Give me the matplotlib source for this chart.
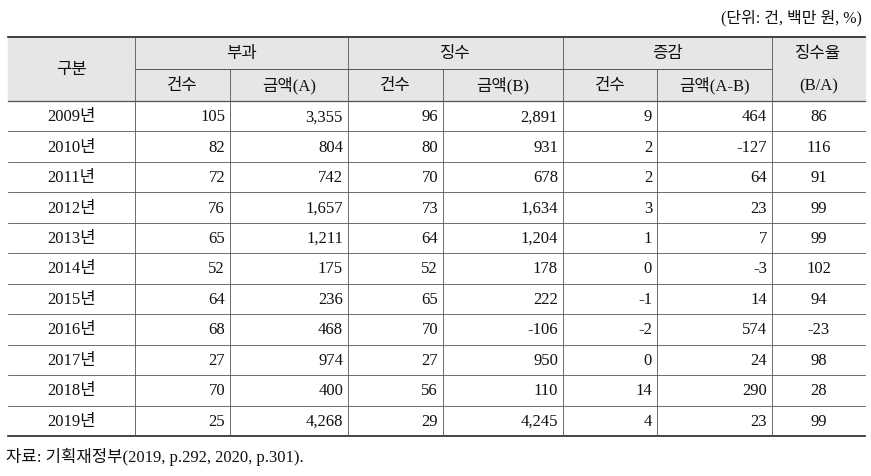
import matplotlib
matplotlib.use("Agg")
import matplotlib.pyplot as plt
from matplotlib import font_manager as fm

years = ["2009년","2010년","2011년","2012년","2013년","2014년","2015년","2016년","2017년","2018년","2019년"]
levy_cnt = [105,82,72,76,65,52,64,68,27,70,25]
levy_amt = [3355,804,742,1657,1211,175,236,468,974,400,4268]
coll_cnt = [96,80,70,73,64,52,65,70,27,56,29]
coll_amt = [2891,931,678,1634,1204,178,222,-106,950,110,4245]
diff_cnt = [9,2,2,3,1,0,-1,-2,0,14,4]
diff_amt = [464,-127,64,23,7,-3,14,574,24,290,23]
rate = [86,116,91,99,99,102,94,-23,98,28,99]

cjk = "Noto Sans CJK KR"
for p in fm.findSystemFonts():
    if "CJK" in p and ("KR" in p or "ttc" in p.lower()):
        try:
            fm.fontManager.addfont(p)
        except Exception:
            pass
names = {f.name for f in fm.fontManager.ttflist}
if cjk not in names:
    cands = [n for n in names if "CJK" in n]
    if cands:
        cjk = sorted(cands)[0]
FONT = ["Liberation Serif", cjk]
plt.rcParams["font.family"] = FONT

fig = plt.figure(figsize=(8.71, 4.77), dpi=100)
ax = fig.add_axes([0, 0, 1, 1])
ax.set_xlim(0, 871); ax.set_ylim(477, 0); ax.axis("off")

xs = [8, 135, 230, 348, 443, 563, 657, 772, 865]
top, h1, h2 = 38, 70, 102
rh = (437 - 102) / 11
fs = 12
bg = "#e6e6e6"

ax.add_patch(plt.Rectangle((xs[0], top), xs[-1]-xs[0], h2-top, color=bg, zorder=0))
lc = "#555555"
ax.plot([xs[0], xs[-1]], [top, top], color="#222222", lw=1.2)
ax.plot([xs[1], xs[7]], [h1, h1], color=lc, lw=0.7)
ax.plot([xs[0], xs[-1]], [h2, h2], color=lc, lw=0.9)
for i in range(1, 11):
    y = h2 + i*rh
    ax.plot([xs[0], xs[-1]], [y, y], color=lc, lw=0.6)
ax.plot([xs[0], xs[-1]], [437, 437], color="#222222", lw=1.2)
bottom = 437
for i, x in enumerate(xs[1:-1], start=1):
    y0 = h1 if i in (2, 4, 6) else top
    ax.plot([x, x], [y0, bottom], color=lc, lw=0.6)

def t(x, y, s, ha="center", size=fs):
    ax.text(x, y, s, ha=ha, va="center", fontsize=size, color="#111111")

t((xs[0]+xs[1])/2, (top+h2)/2, "구분")
for j, lab in enumerate(["부과", "징수", "증감"]):
    t((xs[1+2*j]+xs[3+2*j])/2, (top+h1)/2, lab)
t((xs[7]+xs[8])/2, (top+h1)/2, "징수율")
t((xs[7]+xs[8])/2, (h1+h2)/2, "(B/A)")
subs = ["건수", "금액(A)", "건수", "금액(B)", "건수", "금액(A-B)"]
for j, lab in enumerate(subs):
    t((xs[1+j]+xs[2+j])/2, (h1+h2)/2, lab)

cols = [levy_cnt, levy_amt, coll_cnt, coll_amt, diff_cnt, diff_amt]
for i, yr in enumerate(years):
    yc = h2 + (i+0.5)*rh
    t((xs[0]+xs[1])/2, yc, yr)
    for j, col in enumerate(cols):
        t(xs[2+j]-5, yc, f"{col[i]:,}", ha="right")
    t((xs[7]+xs[8])/2, yc, str(rate[i]))

ax.text(862, 18, "(단위: 건, 백만 원, %)", ha="right", va="center", fontsize=11.5, color="#111111")
ax.text(6, 457, "자료: 기획재정부(2019, p.292, 2020, p.301).", ha="left", va="center", fontsize=12, color="#111111")

fig.savefig("out.png", dpi=100)
